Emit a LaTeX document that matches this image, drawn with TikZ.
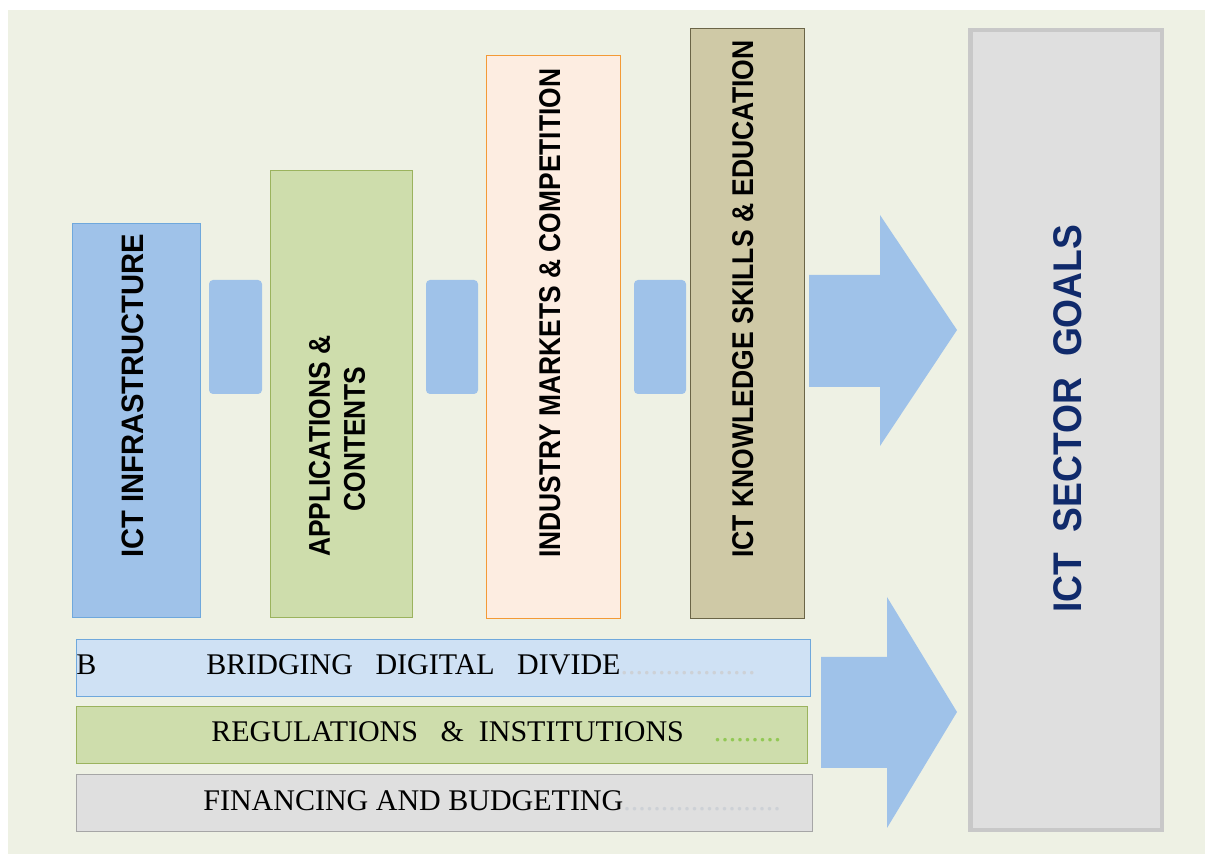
\documentclass[tikz,border=0pt]{standalone}
\usepackage{fontspec}
\setmainfont{Liberation Serif}
\setsansfont{Liberation Sans}
\usepackage{tikz}
\usetikzlibrary{positioning}
\definecolor{bgcol}{HTML}{EEF1E4}
\definecolor{bluefill}{HTML}{9FC2E9}
\definecolor{blueline}{HTML}{6FA8DC}
\definecolor{greenfill}{HTML}{CEDDAC}
\definecolor{greenline}{HTML}{9BB35E}
\definecolor{peachfill}{HTML}{FDEDE1}
\definecolor{orangeline}{HTML}{F39A36}
\definecolor{khakifill}{HTML}{CFC9A6}
\definecolor{khakiline}{HTML}{6B6547}
\definecolor{greyfill}{HTML}{DFDFDF}
\definecolor{greyline}{HTML}{A6A6A6}
\definecolor{goalline}{HTML}{C8C8C8}
\definecolor{lightblue}{HTML}{CFE1F4}
\definecolor{navy}{HTML}{102A6B}
\definecolor{dotgrey}{HTML}{CDD1D6}
\definecolor{dotgreen}{HTML}{92C855}
\tikzset{
  pillar/.style={rotate=90,inner sep=0pt,font=\sffamily\bfseries\fontsize{15}{17.5}\selectfont},
  bar/.style={inner sep=0pt,anchor=base west,font=\fontsize{15}{18}\selectfont},
  link/.style={fill=bluefill,rounded corners=2pt},
  bigarrow/.style={fill=bluefill}
}
\begin{document}
\begin{tikzpicture}[x=0.5pt,y=-0.5pt]
\useasboundingbox (0,0) rectangle (1205,854);
\fill[white] (0,0) rectangle (1205,854);
\fill[bgcol] (8,10) rectangle (1205,854);
\draw[blueline,fill=bluefill] (72,223) rectangle (200,617);
\draw[greenline,fill=greenfill] (270,170) rectangle (412,617);
\draw[orangeline,fill=peachfill] (486,55) rectangle (620,618);
\draw[khakiline,fill=khakifill] (690,28) rectangle (804,618);
\foreach \x/\w in {209/53,426/52,634/52}
  \path[link] (\x,280) rectangle ++(\w,114);
\draw[goalline,fill=greyfill,line width=2.2pt] (970.5,30) rectangle (1162,830);
\fill[bigarrow] (809,275) -- (880,275) -- (880,215) -- (957,330) -- (880,446) -- (880,387) -- (809,387) -- cycle;
\fill[bigarrow] (821,657) -- (887,657) -- (887,597) -- (957,712) -- (887,828) -- (887,768) -- (821,768) -- cycle;
\draw[blueline,fill=lightblue] (76,639) rectangle (810,696);
\draw[greenline,fill=greenfill] (76,706) rectangle (807,763);
\draw[greyline,fill=greyfill] (76,774) rectangle (812,831);
\node[pillar,anchor=base west,font=\sffamily\bfseries\fontsize{15.5}{18}\selectfont] (infra) at (143,558) {\scalebox{0.94}[1]{ICT INFRASTRUCTURE}};
\node[pillar,align=center] (apps) at (337,439) {\scalebox{0.88}[1]{APPLICATIONS \&\ \ }\\\scalebox{0.88}[1]{CONTENTS}};
\node[pillar,anchor=base west] (industry) at (560,558) {\scalebox{0.88}[1]{INDUSTRY MARKETS \& COMPETITION}};
\node[pillar,anchor=base west] (skills) at (753,558) {\scalebox{0.885}[1]{ICT KNOWLEDGE SKILLS \& EDUCATION}};
\node[pillar,anchor=base west,text=navy,font=\sffamily\bfseries\fontsize{20}{24}\selectfont] (goals) at (1081,613) {\scalebox{0.93}[1]{ICT\ \ SECTOR\ \ GOALS}};
\node[bar] (b) at (76,675) {B};
\node[bar] (bridge) at (206,675) {BRIDGING\ \ \ DIGITAL\ \ \ DIVIDE\textcolor{dotgrey}{..................}};
\node[bar] (rules) at (211,742) {REGULATIONS\ \ \ \&\ \ INSTITUTIONS\ \ \ \ \textcolor{dotgreen}{.........}};
\node[bar] (funds) at (203,811) {FINANCING AND BUDGETING\textcolor{dotgrey}{.....................}};
\end{tikzpicture}
\end{document}
